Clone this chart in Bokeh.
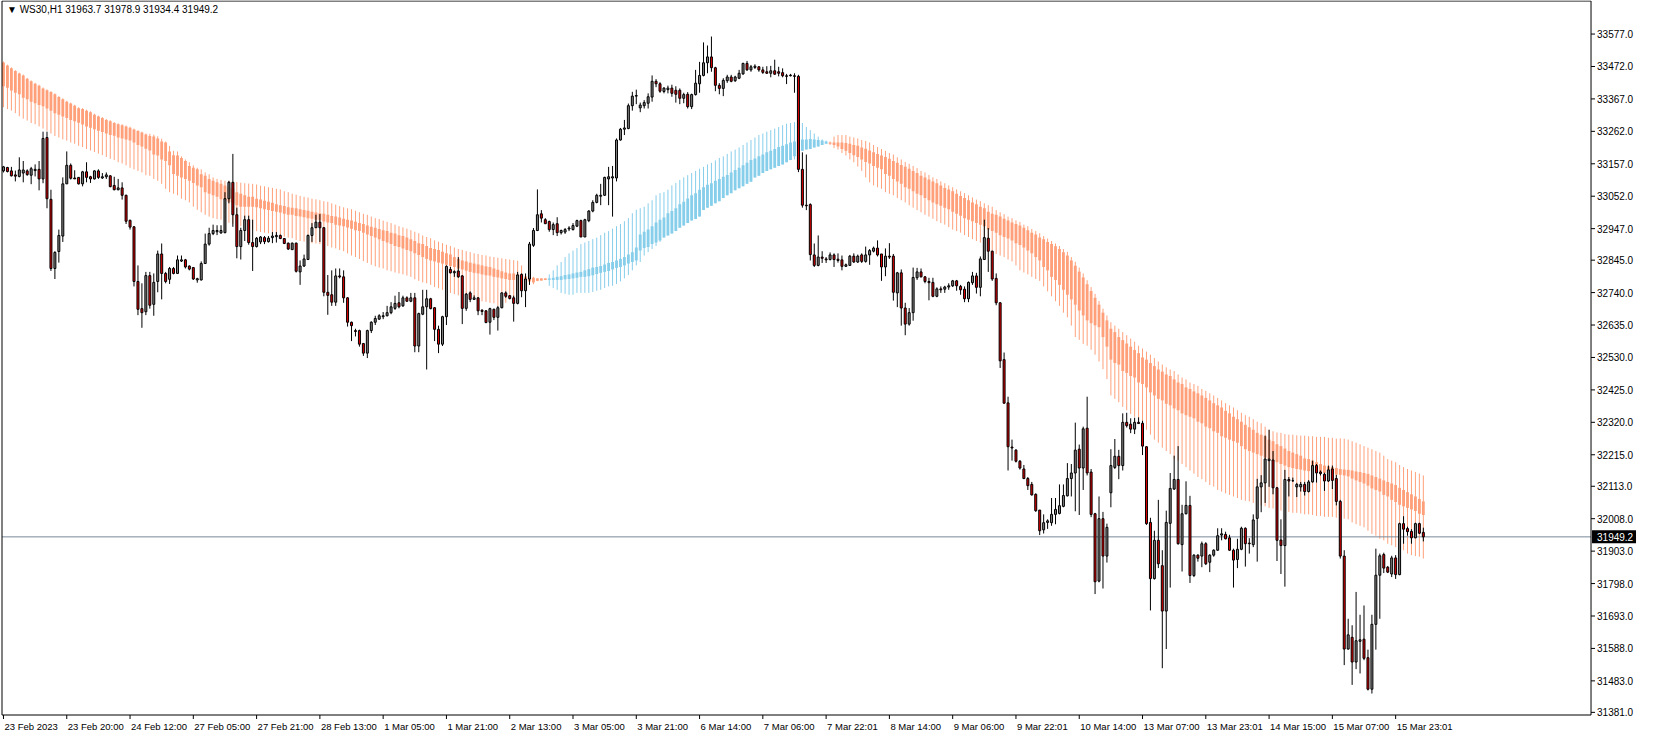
from bokeh.plotting import figure
from bokeh.models import Range1d, Label, Grid
from bokeh.embed import file_html
from bokeh.resources import INLINE
from bokeh.core.properties import value

symbol = "WS30,H1"
time_labels = ["23 Feb 2023", "23 Feb 20:00", "24 Feb 12:00", "27 Feb 05:00", "27 Feb 21:00",
               "28 Feb 13:00", "1 Mar 05:00", "1 Mar 21:00", "2 Mar 13:00", "3 Mar 05:00",
               "3 Mar 21:00", "6 Mar 14:00", "7 Mar 06:00", "7 Mar 22:01", "8 Mar 14:00",
               "9 Mar 06:00", "9 Mar 22:01", "10 Mar 14:00", "13 Mar 07:00", "13 Mar 23:01",
               "14 Mar 15:00", "15 Mar 07:00", "15 Mar 23:01"]
bars_per_label = 16
price_ticks = [33577.0, 33472.0, 33367.0, 33262.0, 33157.0, 33052.0, 32947.0, 32845.0, 32740.0,
               32635.0, 32530.0, 32425.0, 32320.0, 32215.0, 32113.0, 32008.0, 31903.0, 31798.0,
               31693.0, 31588.0, 31483.0, 31381.0]
price_min, price_max = 31372.5, 33684.0

open_ = [33134,33145,33134,33121,33116,33127,33134,33120,33135,33139,33108,33242,33042,32818,32873,32923,33092,33152,33111,33113,
 33092,33131,33115,33108,33134,33111,33115,33118,33087,33073,33079,33055,32974,32953,32776,32688,32678,32795,32702,32776,
 32865,32802,32783,32818,32802,32842,32846,32826,32821,32781,32781,32834,32897,32931,32937,32933,32934,33044,33097,32992,
 32889,32941,32976,32902,32889,32904,32918,32905,32918,32921,32925,32915,32900,32879,32900,32807,32826,32847,32925,32950,
 32968,32950,32741,32733,32709,32794,32791,32723,32644,32617,32617,32575,32544,32617,32644,32654,32662,32665,32675,32689,
 32707,32697,32723,32712,32723,32567,32670,32694,32720,32691,32621,32573,32662,32815,32804,32810,32794,32689,32739,32718,
 32723,32683,32681,32644,32686,32660,32691,32739,32730,32723,32705,32799,32746,32784,32893,32941,32995,32976,32970,32944,
 32963,32934,32936,32946,32944,32955,32973,32920,32973,33004,33032,33052,33055,33108,33111,33111,33234,33269,33271,33345,
 33376,33338,33345,33353,33373,33424,33416,33391,33397,33402,33395,33395,33369,33382,33342,33381,33416,33443,33484,33503,
 33468,33411,33401,33426,33438,33426,33434,33448,33482,33461,33469,33471,33461,33455,33450,33458,33455,33452,33442,33444,
 33442,33440,33139,33023,33025,32862,32828,32855,32849,32847,32862,32848,32846,32825,32828,32858,32839,32862,32841,32862,
 32874,32884,32865,32823,32858,32858,32739,32804,32690,32638,32675,32788,32807,32791,32776,32773,32728,32752,32751,32758,
 32762,32778,32760,32751,32720,32772,32794,32757,32847,32916,32874,32786,32707,32523,32383,32240,32230,32194,32169,32138,
 32119,32087,32036,31972,31996,31995,32022,32025,32048,32082,32138,32156,32233,32172,32301,32159,32024,31806,32008,31887,
 32092,32174,32210,32180,32320,32314,32298,32320,32317,32241,31996,31814,31938,31856,31709,31993,32104,32135,31924,32024,
 32051,31824,31890,31887,31927,31867,31890,31906,31955,31957,31946,31906,31876,31909,31977,31929,31924,32009,32111,32124,
 32196,32198,32108,31939,31921,32135,32131,32111,32111,32119,32096,32127,32180,32159,32152,32130,32169,32138,32064,31887,
 31586,31624,31544,31611,31618,31558,31456,31666,31825,31892,31851,31829,31881,31827,31992,31976,31967,31946,31992,31963.7]
high = [33150,33147,33147,33135,33178,33166,33139,33147,33155,33166,33261,33261,33073,32874,32944,33113,33197,33158,33136,33113,
 33134,33162,33118,33136,33139,33127,33129,33120,33115,33108,33097,33057,32976,32955,32828,32770,32807,32807,32802,32876,
 32899,32807,32823,32823,32860,32860,32849,32828,32823,32788,32841,32931,32950,32960,32958,32958,33065,33102,33189,33015,
 32950,32989,32989,32976,32920,32923,32923,32923,32936,32936,32928,32916,32902,32902,32902,32844,32863,32928,32965,32992,
 32994,32952,32797,32812,32818,32818,32812,32725,32646,32623,32620,32577,32620,32647,32665,32670,32677,32697,32709,32730,
 32742,32730,32728,32739,32739,32675,32749,32749,32723,32693,32633,32665,32828,32823,32812,32855,32797,32739,32744,32731,
 32725,32686,32683,32691,32688,32697,32741,32744,32732,32730,32807,32802,32802,32904,32949,33074,33007,32981,32973,32967,
 32984,32944,32949,32955,32965,32976,32976,32979,33007,33039,33060,33092,33115,33147,33150,33239,33273,33299,33352,33390,
 33397,33355,33363,33385,33443,33431,33421,33405,33410,33413,33408,33401,33387,33389,33384,33461,33487,33550,33540,33569,
 33471,33418,33434,33445,33445,33442,33461,33484,33490,33477,33479,33473,33471,33473,33474,33494,33471,33466,33448,33448,
 33450,33445,33194,33187,33029,32899,32925,32874,32855,32870,32867,32867,32860,32834,32862,32867,32863,32867,32889,32881,
 32889,32909,32865,32883,32900,32865,32807,32815,32707,32690,32821,32820,32818,32793,32788,32788,32757,32760,32762,32770,
 32781,32781,32765,32760,32776,32807,32804,32857,32976,32949,32876,32802,32709,32546,32403,32264,32233,32198,32182,32143,
 32127,32090,32036,32022,32006,32075,32075,32119,32119,32188,32185,32319,32248,32306,32403,32169,32027,32080,32030,31992,
 32233,32266,32231,32349,32351,32333,32335,32336,32325,32243,32011,31969,32069,31906,32034,32156,32212,32243,32053,32129,
 32082,31893,31893,31934,31932,31893,31909,31977,31977,31966,31956,31911,31943,31982,31980,31945,32022,32137,32149,32277,
 32296,32227,32111,32006,32166,32143,32141,32124,32127,32127,32133,32196,32185,32164,32157,32180,32180,32150,32069,31906,
 31684,31663,31771,31697,31727,31584,31697,31911,31895,31898,31855,31888,31890,31995,32016,31982,31974,31995,31995,31978.9]
low = [33129,33129,33116,33100,33113,33097,33118,33091,33116,33071,33094,33013,32810,32784,32837,32904,33092,33106,33108,33090,
 33084,33097,33095,33106,33108,33108,33108,33081,33071,33071,33041,32962,32944,32760,32667,32626,32667,32688,32665,32741,
 32718,32770,32768,32799,32800,32839,32818,32812,32781,32772,32779,32834,32892,32926,32926,32931,32932,33029,32953,32851,
 32847,32907,32895,32810,32886,32897,32897,32902,32900,32902,32913,32897,32878,32878,32805,32765,32823,32846,32904,32950,
 32904,32728,32668,32697,32697,32786,32707,32630,32583,32598,32565,32535,32528,32609,32635,32652,32654,32663,32670,32684,
 32689,32694,32710,32709,32547,32547,32667,32491,32686,32583,32544,32567,32635,32802,32791,32788,32638,32681,32709,32716,
 32667,32667,32641,32604,32651,32617,32689,32723,32718,32646,32702,32725,32693,32765,32888,32939,32967,32962,32937,32926,
 32923,32928,32930,32939,32941,32952,32920,32920,32968,33000,33029,33023,33053,33023,32986,33100,33232,33250,33269,33329,
 33350,33324,33336,33336,33358,33405,33387,33385,33385,33374,33355,33350,33353,33336,33334,33378,33387,33440,33450,33455,
 33392,33382,33376,33419,33421,33422,33431,33445,33458,33455,33464,33455,33448,33448,33437,33445,33440,33437,33415,33440,
 33387,33130,33015,33007,32844,32823,32825,32836,32836,32844,32823,32837,32812,32823,32827,32836,32836,32836,32837,32830,
 32870,32857,32778,32793,32849,32714,32693,32633,32602,32633,32649,32781,32789,32770,32715,32725,32725,32739,32739,32749,
 32758,32746,32733,32709,32709,32765,32737,32728,32846,32807,32778,32699,32496,32380,32164,32196,32190,32167,32136,32101,
 32083,32030,31955,31960,31975,31985,31990,32022,32045,32080,32080,32032,32020,32101,32148,32013,31764,31802,31782,31866,
 32045,32169,32136,32164,32303,32285,32282,32315,32214,31988,31711,31811,31848,31524,31586,31785,32101,31924,31837,32022,
 31800,31819,31869,31851,31858,31835,31885,31904,31938,31941,31904,31785,31848,31906,31853,31895,31916,31869,32029,32059,
 32111,32087,31871,31829,31788,32080,32127,32078,32096,32083,32093,32125,32125,32148,32098,32127,32104,32051,31879,31534,
 31584,31470,31521,31507,31550,31452,31442,31584,31684,31832,31832,31819,31813,31825,31927,31953,31927,31945,31958,31934.4]
close = [33147,33132,33118,33117,33137,33137,33122,33141,33139,33108,33239,33044,32818,32870,32925,33092,33152,33110,33108,33092,
 33131,33113,33108,33134,33113,33115,33121,33083,33073,33079,33055,32971,32952,32776,32686,32675,32795,32699,32773,32865,
 32802,32776,32818,32802,32846,32846,32823,32816,32784,32785,32834,32897,32931,32941,32941,32941,33044,33097,32992,32889,
 32941,32976,32902,32889,32916,32920,32905,32916,32923,32925,32915,32899,32881,32900,32809,32826,32849,32925,32950,32968,
 32950,32741,32731,32709,32794,32791,32723,32644,32633,32614,32573,32544,32617,32644,32656,32665,32665,32675,32694,32705,
 32694,32723,32712,32723,32567,32672,32694,32720,32688,32621,32573,32662,32825,32804,32808,32791,32689,32735,32718,32723,
 32681,32679,32643,32688,32660,32691,32739,32728,32721,32705,32797,32746,32784,32897,32941,32992,32981,32963,32944,32960,
 32934,32941,32944,32949,32957,32973,32920,32976,33004,33032,33055,33055,33113,33115,33115,33234,33269,33273,33345,33376,
 33378,33347,33355,33374,33424,33416,33392,33402,33402,33385,33382,33369,33381,33342,33381,33418,33443,33484,33503,33468,
 33411,33401,33427,33438,33424,33438,33450,33482,33461,33471,33473,33461,33453,33450,33458,33447,33450,33442,33440,33442,
 33440,33139,33023,33021,32863,32828,32855,32851,32846,32862,32847,32844,32825,32830,32858,32839,32858,32841,32862,32876,
 32884,32862,32823,32858,32855,32741,32804,32690,32638,32675,32789,32807,32791,32776,32772,32728,32752,32749,32758,32762,
 32778,32762,32749,32720,32773,32794,32757,32849,32918,32874,32784,32707,32519,32382,32241,32237,32194,32172,32138,32115,
 32085,32034,31969,31995,32001,32022,32038,32050,32083,32138,32156,32230,32172,32299,32156,32022,31804,32008,31887,31980,
 32180,32210,32180,32320,32309,32298,32320,32316,32243,31992,31814,31938,31862,31709,31996,32106,32135,31927,32024,32051,
 31824,31890,31880,31927,31862,31890,31906,31953,31959,31943,31906,31874,31909,31977,31927,31927,32004,32111,32124,32201,
 32201,32108,31938,31921,32135,32130,32131,32119,32119,32096,32127,32180,32156,32154,32130,32166,32132,32064,31887,31586,
 31632,31544,31613,31616,31556,31456,31666,31825,31888,31848,31835,31881,31827,31992,31974,31966,31946,31992,31961,31949.2]

band_line_top = [33488,33478,33469,33460,33452,33446,33435,33427,33419,33413,33404,33398,33392,33385,33376,33369,33361,33355,33348,33340,
 33337,33332,33327,33319,33313,33308,33302,33298,33292,33288,33285,33281,33277,33271,33266,33261,33255,33254,33251,33246,
 33238,33229,33215,33199,33197,33181,33171,33162,33152,33144,33139,33129,33123,33113,33108,33105,33102,33101,33099,33098,
 33096,33094,33093,33092,33090,33086,33084,33081,33079,33076,33074,33068,33065,33060,33057,33053,33050,33048,33044,33042,
 33039,33036,33034,33029,33025,33020,33016,33013,33010,33005,33000,32995,32992,32986,32981,32978,32973,32969,32965,32960,
 32955,32951,32947,32942,32937,32932,32925,32920,32916,32909,32905,32900,32895,32891,32886,32881,32878,32874,32871,32867,
 32865,32862,32860,32857,32855,32853,32851,32849,32847,32845,32843,32828,32799,32792,32791,32786,32786,32786,32799,32812,
 32828,32839,32855,32867,32876,32884,32897,32902,32907,32913,32918,32926,32934,32939,32947,32955,32962,32971,32981,32997,
 33008,33013,33018,33029,33039,33055,33062,33065,33073,33087,33095,33105,33113,33120,33127,33134,33141,33147,33155,33160,
 33168,33176,33181,33189,33197,33203,33210,33218,33226,33234,33242,33250,33255,33261,33266,33271,33276,33282,33287,33289,
 33292,33291,33289,33276,33266,33255,33245,33236,33232,33229,33245,33250,33250,33250,33245,33242,33239,33234,33231,33226,
 33218,33211,33205,33199,33192,33187,33178,33171,33163,33157,33150,33143,33134,33129,33121,33113,33108,33100,33094,33087,
 33081,33074,33068,33062,33055,33048,33041,33036,33029,33023,33018,33007,33000,32994,32986,32981,32974,32969,32960,32955,
 32946,32939,32932,32923,32915,32907,32899,32891,32881,32872,32855,32840,32821,32802,32780,32758,32736,32713,32688,32666,
 32644,32633,32623,32612,32602,32591,32581,32568,32559,32549,32539,32528,32517,32507,32498,32491,32486,32475,32465,32459,
 32449,32444,32438,32428,32422,32414,32407,32399,32391,32382,32375,32368,32359,32351,32343,32338,32330,32322,32317,32306,
 32296,32291,32287,32286,32282,32280,32280,32278,32277,32277,32275,32275,32273,32273,32273,32270,32270,32267,32268,32267,
 32264,32259,32254,32249,32243,32238,32233,32227,32222,32212,32201,32196,32191,32182,32175,32169,32164,32159,32154,32148]
band_body_top = [33485,33475,33466,33457,33449,33443,33432,33424,33416,33410,33401,33395,33389,33382,33373,33366,33358,33352,33345,33337,
 33334,33329,33324,33316,33310,33305,33299,33295,33289,33285,33282,33278,33274,33268,33263,33258,33252,33247,33245,33239,
 33229,33226,33197,33185,33184,33176,33166,33150,33144,33139,33123,33118,33108,33102,33097,33092,33087,33081,33076,33065,
 33060,33055,33050,33050,33044,33041,33037,33034,33031,33026,33023,33020,33016,33015,33013,33010,33007,33005,33002,32999,
 32997,32995,32992,32988,32986,32983,32979,32976,32973,32969,32965,32962,32957,32953,32950,32946,32942,32939,32934,32931,
 32926,32923,32918,32913,32907,32900,32897,32891,32884,32881,32878,32872,32867,32863,32855,32849,32844,32841,32837,32834,
 32831,32828,32825,32823,32818,32814,32809,32805,32802,32802,32799,32793,32792,32791,32788,32786,32786,32786,32786,32788,
 32791,32793,32797,32799,32802,32805,32807,32812,32816,32821,32823,32826,32831,32836,32839,32844,32849,32855,32863,32871,
 32886,32928,32937,32944,32955,32967,32976,32983,32997,33004,33013,33026,33034,33045,33055,33062,33073,33081,33089,33094,
 33102,33108,33115,33121,33129,33137,33144,33152,33160,33169,33174,33181,33187,33194,33199,33205,33211,33215,33220,33226,
 33229,33234,33236,33236,33237,33236,33234,33232,33229,33226,33226,33226,33226,33224,33222,33218,33215,33210,33206,33200,
 33194,33189,33184,33179,33173,33166,33160,33153,33147,33141,33134,33127,33118,33113,33106,33100,33094,33087,33079,33074,
 33068,33060,33053,33046,33039,33032,33026,33018,33013,33002,32995,32992,32986,32979,32973,32967,32962,32957,32950,32942,
 32934,32928,32918,32913,32904,32897,32890,32881,32871,32860,32844,32827,32808,32789,32767,32745,32723,32701,32675,32650,
 32623,32612,32596,32586,32575,32565,32554,32544,32530,32523,32512,32502,32491,32484,32475,32470,32459,32449,32444,32433,
 32428,32420,32414,32407,32399,32391,32382,32375,32368,32357,32349,32338,32330,32322,32312,32304,32296,32286,32280,32275,
 32264,32259,32249,32243,32235,32227,32222,32217,32212,32203,32201,32196,32191,32185,32180,32177,32175,32172,32169,32167,
 32166,32164,32161,32159,32156,32153,32148,32143,32138,32132,32127,32122,32117,32108,32101,32094,32087,32080,32072,32064]
band_body_bottom = [33408,33403,33394,33387,33382,33371,33366,33358,33353,33347,33343,33336,33329,33321,33316,33310,33305,33299,33295,33290,
 33284,33278,33274,33269,33264,33260,33255,33250,33248,33242,33239,33236,33232,33226,33218,33213,33206,33200,33187,33184,
 33171,33166,33152,33124,33118,33113,33108,33102,33095,33087,33081,33065,33060,33055,33050,33042,33039,33034,33030,33023,
 33018,33018,33018,33018,33016,33013,33010,33007,33004,33002,32999,32995,32992,32992,32988,32986,32984,32981,32979,32976,
 32974,32970,32967,32965,32960,32957,32955,32951,32947,32942,32939,32934,32928,32923,32918,32913,32907,32902,32897,32891,
 32888,32883,32878,32874,32867,32862,32855,32849,32844,32841,32837,32834,32830,32826,32823,32818,32815,32811,32807,32804,
 32802,32799,32796,32795,32791,32789,32786,32784,32781,32781,32781,32779,32779,32776,32773,32778,32779,32781,32781,32781,
 32781,32781,32783,32784,32786,32788,32791,32791,32793,32796,32800,32804,32807,32810,32815,32820,32823,32828,32834,32839,
 32844,32876,32884,32888,32897,32902,32909,32918,32925,32931,32939,32950,32957,32965,32973,32978,32986,33007,33015,33021,
 33029,33036,33046,33055,33062,33071,33078,33084,33092,33099,33113,33118,33127,33134,33139,33144,33150,33155,33162,33169,
 33181,33197,33199,33203,33205,33210,33213,33218,33222,33222,33218,33213,33205,33199,33192,33185,33179,33171,33163,33158,
 33150,33144,33139,33124,33118,33108,33100,33092,33081,33076,33068,33060,33055,33046,33039,33032,33026,33021,33015,33010,
 33002,32995,32989,32981,32976,32971,32965,32960,32955,32944,32939,32934,32926,32920,32915,32909,32900,32894,32886,32876,
 32867,32855,32844,32823,32812,32791,32781,32765,32749,32733,32718,32701,32682,32666,32650,32641,32634,32628,32596,32565,
 32523,32512,32507,32486,32480,32470,32465,32449,32444,32433,32417,32407,32396,32391,32380,32375,32365,32359,32349,32343,
 32338,32333,32322,32317,32306,32301,32291,32286,32275,32270,32264,32259,32254,32243,32233,32227,32222,32217,32212,32206,
 32201,32196,32191,32185,32180,32175,32172,32169,32167,32164,32162,32161,32159,32157,32156,32154,32154,32151,32150,32148,
 32145,32138,32132,32127,32122,32115,32106,32101,32096,32085,32080,32069,32062,32053,32048,32043,32038,32033,32024,32020]
band_line_bottom = [33340,33334,33329,33321,33311,33303,33297,33289,33285,33278,33271,33264,33255,33247,33242,33236,33232,33226,33222,33215,
 33211,33205,33200,33195,33190,33185,33179,33173,33169,33162,33158,33152,33144,33139,33134,33129,33120,33118,33108,33102,
 33092,33076,33065,33060,33055,33044,33039,33032,33018,33008,33000,32992,32986,32981,32978,32976,32970,32966,32963,32960,
 32955,32951,32947,32944,32939,32936,32934,32932,32928,32926,32923,32921,32918,32916,32910,32907,32905,32902,32900,32899,
 32897,32894,32891,32886,32883,32878,32874,32867,32860,32855,32849,32842,32836,32830,32825,32821,32818,32812,32809,32805,
 32802,32799,32795,32791,32783,32778,32773,32770,32765,32758,32754,32749,32744,32739,32735,32731,32728,32723,32720,32718,
 32714,32712,32710,32707,32705,32698,32697,32707,32718,32723,32739,32749,32761,32765,32767,32777,32779,32781,32762,32755,
 32749,32739,32736,32733,32733,32739,32739,32739,32739,32742,32746,32749,32755,32760,32762,32768,32776,32786,32797,32812,
 32828,32839,32860,32871,32881,32891,32904,32918,32925,32931,32939,32950,32957,32965,32973,32978,32986,33007,33015,33021,
 33029,33036,33046,33055,33062,33071,33078,33084,33092,33099,33113,33118,33127,33134,33139,33144,33150,33155,33162,33169,
 33171,33188,33199,33203,33205,33210,33213,33218,33222,33218,33208,33203,33192,33184,33171,33162,33148,33134,33113,33097,
 33087,33081,33076,33065,33060,33055,33046,33039,33032,33023,33015,33007,33000,32992,32986,32979,32971,32965,32960,32952,
 32944,32939,32934,32926,32920,32913,32907,32902,32897,32891,32876,32865,32860,32855,32847,32841,32828,32812,32805,32799,
 32791,32784,32778,32760,32744,32728,32712,32697,32675,32660,32633,32596,32587,32574,32568,32555,32539,32517,32492,32460,
 32407,32396,32385,32370,32359,32347,32338,32328,32317,32296,32280,32264,32254,32238,32227,32217,32201,32196,32185,32175,
 32164,32154,32143,32136,32127,32117,32112,32101,32096,32090,32085,32080,32075,32069,32066,32064,32059,32053,32051,32048,
 32043,32041,32038,32034,32033,32030,32027,32027,32025,32022,32022,32020,32017,32017,32014,32014,32014,32011,32010,32008,
 32006,31996,31990,31985,31980,31969,31959,31953,31943,31938,31927,31922,31916,31911,31906,31895,31890,31887,31885,31879]
band_trend = ["down"] * 138 + ["up"] * 71 + ["down"] * 151

# ---------------- layout (pixels) ----------------
W, H = 1641, 737            # whole canvas (fits the 1657x753 window with 8px margins)
KX = 3.955                  # pixels per bar
CH = 714                    # chart height in pixels
x_left, x_right = -0.375, 401.4           # chart border, in bar units
KY = CH / (price_max - price_min)         # pixels per price point
xs0 = x_left - 1.5 / KX
xs1 = xs0 + W / KX
ys1 = price_max + 0.5 / KY
ys0 = ys1 - H / KY
FONT = "Liberation Sans"

p = figure(width=W, height=H, x_range=Range1d(xs0, xs1), y_range=Range1d(ys0, ys1),
           output_backend="svg", toolbar_location=None,
           x_axis_location=None, y_axis_location=None,
           min_border=0, min_border_left=0, min_border_right=0, min_border_top=0, min_border_bottom=0,
           background_fill_color="white", border_fill_color="white", outline_line_color=None)
p.center = [r for r in p.center if not isinstance(r, Grid)]

n = len(close)
xs = list(range(n))

# indicator band
band_colors = ["#87CEEB" if t == "up" else "#FFA07A" for t in band_trend]
p.segment(x0=xs, y0=band_line_bottom, x1=xs, y1=band_line_top, line_color=band_colors, line_width=1)
p.vbar(x=xs, width=0.72, top=band_body_top, bottom=band_body_bottom, fill_color=band_colors, line_color=None)

# current price line (inside the chart only)
last = close[-1]
p.segment(x0=[x_left], y0=[last], x1=[x_right], y1=[last], line_color="#778899", line_width=1)

# candles
p.segment(x0=xs, y0=low, x1=xs, y1=high, line_color="black", line_width=1)
tops = [max(o, c) for o, c in zip(open_, close)]
bots = [min(o, c) for o, c in zip(open_, close)]
cc = ["#808080" if c >= o else "#e00000" for o, c in zip(open_, close)]
p.vbar(x=xs, width=0.5, top=tops, bottom=bots, fill_color=cc, line_color="black", line_width=1)

# chart border
p.segment(x0=[x_left, x_right, x_left, x_left], y0=[price_min, price_min, price_max, price_min],
          x1=[x_left, x_right, x_right, x_right], y1=[price_max, price_max, price_max, price_min],
          line_color="black", line_width=1)

# price scale on the right
tx = x_right + 4.0 / KX
p.segment(x0=[x_right] * len(price_ticks), y0=price_ticks, x1=[tx] * len(price_ticks), y1=price_ticks,
          line_color="black", line_width=1)
p.text(x=[x_right + 6.0 / KX] * len(price_ticks), y=price_ticks, text=["%.1f" % t for t in price_ticks],
       text_align="left", text_baseline="middle", text_font=value(FONT), text_font_size="10px",
       text_color="black")

# current price tag
p.quad(left=[x_right + 1.0 / KX], right=[x_right + 45.0 / KX],
       bottom=[last - 6.5 / KY], top=[last + 6.5 / KY], fill_color="black", line_color=None)
p.text(x=[x_right + 6.0 / KX], y=[last], text=["%.1f" % last], text_align="left", text_baseline="middle",
       text_font=value(FONT), text_font_size="10px", text_color="white")

# time scale at the bottom
tick_x = [bars_per_label * k for k in range(len(time_labels))]
p.segment(x0=tick_x, y0=[price_min] * len(tick_x), x1=tick_x, y1=[price_min - 4.0 / KY] * len(tick_x),
          line_color="black", line_width=1)
p.text(x=tick_x, y=[price_min - 11.0 / KY] * len(tick_x), text=time_labels, x_offset=1,
       text_align="left", text_baseline="middle", text_font=value(FONT), text_font_size="9.5px",
       text_color="black")

# symbol / OHLC caption
p.add_layout(Label(x=x_left, y=price_max, x_offset=5, y_offset=-3,
                   text="\u25BC %s  %.1f %.1f %.1f %.1f" % (symbol, open_[-1], high[-1], low[-1], close[-1]),
                   text_font=FONT, text_font_size="10px", text_color="black",
                   text_baseline="top", text_align="left"))

open("out.html", "w").write(file_html(p, INLINE))
